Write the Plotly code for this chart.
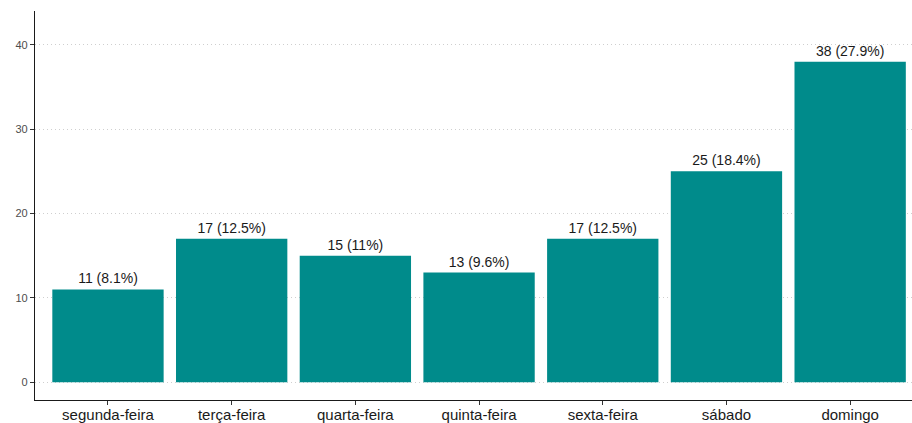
import plotly.graph_objects as go

categories = ["segunda-feira", "terça-feira", "quarta-feira", "quinta-feira",
              "sexta-feira", "sábado", "domingo"]
counts = [11, 17, 15, 13, 17, 25, 38]
percents = ["8.1%", "12.5%", "11%", "9.6%", "12.5%", "18.4%", "27.9%"]
y_ticks = [0, 10, 20, 30, 40]

labels = [f"{c} ({p})" for c, p in zip(counts, percents)]

fig = go.Figure(go.Bar(
    x=categories, y=counts, text=labels, textposition="outside",
    textfont=dict(family="Liberation Sans, Arial", size=14, color="#1a1a1a"),
    marker=dict(color="#008B8B", line=dict(width=0)),
    width=0.9, cliponaxis=False, hoverinfo="skip",
))

fig.update_layout(
    width=912, height=423,
    margin=dict(l=35, r=0, t=11, b=23, autoexpand=False),
    plot_bgcolor="white", paper_bgcolor="white",
    showlegend=False,
    font=dict(family="Liberation Sans, Arial"),
    xaxis=dict(
        range=[-0.59, 6.5], showgrid=False, showline=True, linecolor="#1a1a1a",
        linewidth=1.2, ticks="outside", ticklen=4, tickcolor="#333333",
        tickfont=dict(size=15, color="#1a1a1a"), zeroline=False,
        automargin=False, ticklabelstandoff=-3,
    ),
    yaxis=dict(
        range=[-2.1, 44.0], tickvals=y_ticks, showgrid=True,
        gridcolor="#cfcfcf", griddash="1px,3px", gridwidth=1,
        showline=True, linecolor="#1a1a1a", linewidth=1.2,
        ticks="outside", ticklen=4, tickcolor="#333333",
        tickfont=dict(size=11, color="#4d4d4d"), zeroline=False,
        automargin=False,
    ),
)

fig.write_html(
    "out.html",
    config={"displayModeBar": False},
    post_script="document.body.style.margin='0';document.body.style.overflow='hidden';",
)
